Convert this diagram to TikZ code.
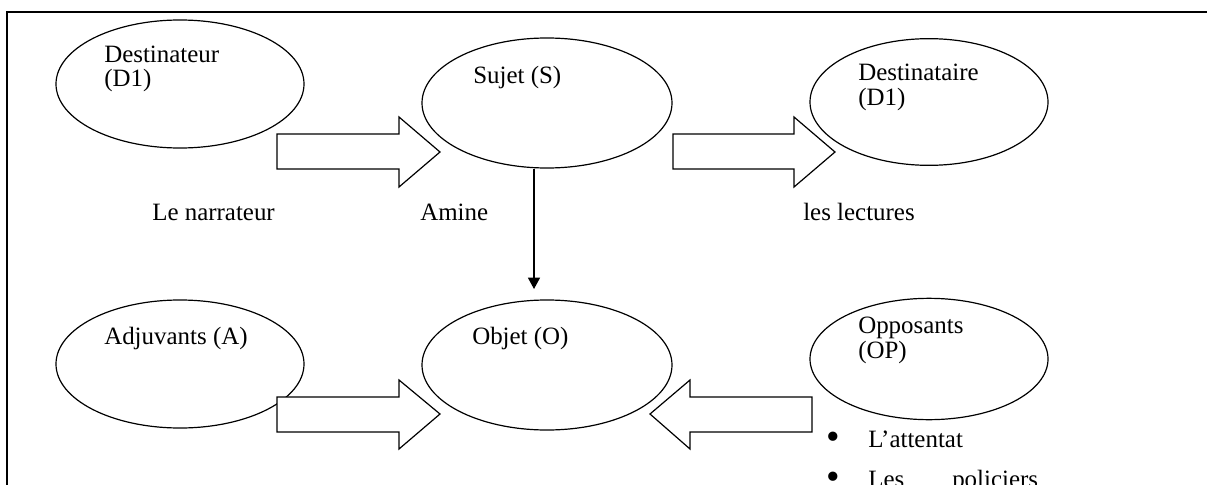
\documentclass[tikz,border=0pt]{standalone}
\usepackage{fontspec}
\setmainfont{Liberation Serif}
\usetikzlibrary{shapes.geometric,arrows.meta}

\begin{document}
\begin{tikzpicture}[x=0.75pt,y=0.75pt,yscale=-1,xscale=1,
  actant/.style={draw, ellipse, line width=0.9pt, inner sep=0pt},
  bigarrow/.style={draw, line width=0.9pt, fill=white, line join=miter},
  lbl/.style={anchor=base west, inner sep=0pt, font=\fontsize{18.7}{22}\selectfont},
  puce/.style={anchor=base west, inner sep=0pt, font=\fontsize{29}{29}\selectfont}]
\useasboundingbox (0,0) rectangle (1207,485);

%Shape: Rectangle [frame]
\draw [line width=1.1pt] (7,12) rectangle (1220,500) ;

%Shape: Ellipse [Destinateur]
\node [actant, minimum width=186pt, minimum height=96pt] (dest) at (180,84) {};
%Shape: Ellipse [Sujet]
\node [actant, minimum width=187.5pt, minimum height=97.5pt] (sujet) at (547,103) {};
%Shape: Ellipse [Destinataire]
\node [actant, minimum width=178.5pt, minimum height=95pt] (destin) at (929,102) {};
%Shape: Ellipse [Adjuvants]
\node [actant, minimum width=186pt, minimum height=96pt] (adjuv) at (180,364) {};
%Shape: Ellipse [Objet]
\node [actant, minimum width=187.5pt, minimum height=97.5pt] (objet) at (547,365) {};
%Shape: Ellipse [Opposants]
\node [actant, minimum width=178.5pt, minimum height=91pt] (oppos) at (929,359) {};

%Shape: Right Arrow [dest -> sujet]
\draw [bigarrow] (277,134) -- (399,134) -- (399,117) -- (440,152) -- (399,187) -- (399,169) -- (277,169) -- cycle ;
%Shape: Right Arrow [sujet -> destin]
\draw [bigarrow] (673,134) -- (794,134) -- (794,117) -- (835,152) -- (794,187) -- (794,169) -- (673,169) -- cycle ;
%Shape: Right Arrow [adjuv -> objet]
\draw [bigarrow] (277,397) -- (399,397) -- (399,380) -- (440,414) -- (399,449) -- (399,432) -- (277,432) -- cycle ;
%Shape: Left Arrow [oppos -> objet]
\draw [bigarrow] (812,397) -- (690,397) -- (690,380) -- (650,414) -- (690,449) -- (690,432) -- (812,432) -- cycle ;

%Straight Lines [sujet -> objet]
\coordinate (quete) at (534,289);
\draw [line width=1pt, -{Triangle[length=8.5pt,width=9pt]}] (sujet.south -| quete) -- (quete) ;

% Text Node
\node [lbl] (destA) at (104,63) {Destinateur};
\node [lbl] (destB) at (104,87) {(D1)};
% Text Node
\node [lbl] (sujetA) at (473,84) {Sujet (S)};
% Text Node
\node [lbl] (destinA) at (858,81) {Destinataire};
\node [lbl] (destinB) at (858,105) {(D1)};
% Text Node
\node [lbl] (narr) at (152,220) {Le narrateur};
\node [lbl] (amine) at (420,220) {Amine};
\node [lbl] (lect) at (803,220) {les lectures};
% Text Node
\node [lbl] (adjuvA) at (104,344) {Adjuvants (A)};
\node [lbl] (objetA) at (472,344) {Objet (O)};
% Text Node
\node [lbl] (opposA) at (858,333) {Opposants};
\node [lbl] (opposB) at (858,358) {(OP)};
% Text Node
\node [puce] (puce1) at (826,449) {\textbullet};
\node [lbl] (att) at (868,447) {L’attentat};
\node [puce] (puce2) at (826,489) {\textbullet};
\node [lbl] (pol) at (868,487) {Les\hspace{36pt}policiers};

\end{tikzpicture}
\end{document}
